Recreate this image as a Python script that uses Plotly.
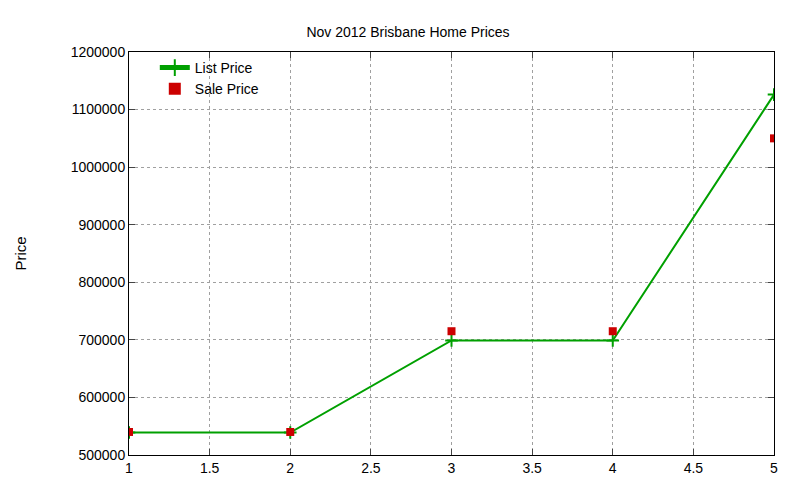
import plotly.graph_objects as go

x = [1, 2, 3, 4, 5]
list_price = [539000, 539000, 699000, 699000, 1126000]
sale_price = [540000, 540000, 715000, 715000, 1050000]

fig = go.Figure()
fig.add_trace(go.Scatter(x=x, y=list_price, name='List Price', mode='lines+markers',
                         line=dict(color='#00a000', width=2),
                         marker=dict(symbol='cross-thin', size=9, line=dict(color='#00a000', width=2))))
fig.add_trace(go.Scatter(x=x, y=sale_price, name='Sale Price', mode='markers',
                         marker=dict(symbol='square', size=8, color='#cc0000')))

axis = dict(showline=True, linecolor='black', mirror='ticks', ticks='inside', ticklen=6,
            showgrid=True, gridcolor='#a0a0a0', griddash='dot', gridwidth=1,
            zeroline=False, tickfont=dict(size=14, color='black'))
fig.update_xaxes(range=[1, 5], dtick=0.5, **axis)
fig.update_yaxes(range=[500000, 1200000], dtick=100000, tickformat='d',
                 title=dict(text='Price', font=dict(size=15), standoff=40), **axis)
fig.update_layout(
    width=800, height=480, plot_bgcolor='white', paper_bgcolor='white',
    font=dict(family='Liberation Sans, Arial', color='black', size=14),
    title=dict(text='Nov 2012 Brisbane Home Prices', x=0.5, y=0.96, xanchor='center', font=dict(size=14)),
    margin=dict(l=119, r=34, t=44, b=31),
    legend=dict(x=0.04, y=1.0, xanchor='left', yanchor='top', bgcolor='rgba(0,0,0,0)',
                tracegroupgap=0, itemsizing='constant'),
)
fig.write_html("out.html")
